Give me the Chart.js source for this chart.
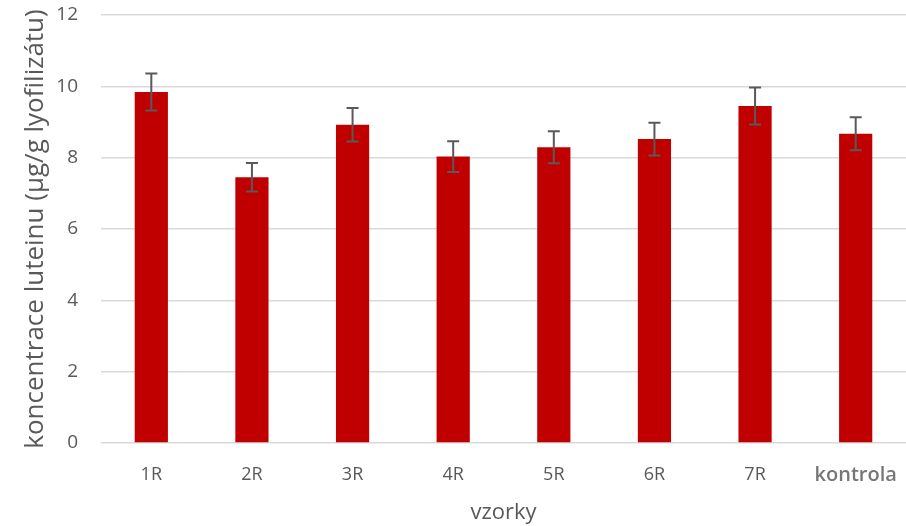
<!DOCTYPE html>
<html>
<head>
<meta charset="utf-8">
<script src="https://cdn.jsdelivr.net/npm/chart.js@4"></script>
<style>
  html, body { margin: 0; padding: 0; background: #fff; }
  #wrap { width: 906px; height: 526px; }
</style>
</head>
<body>
<div id="wrap"><canvas id="chart"></canvas></div>
<script>
// samples and measured lutein values
const labels = ["1R", "2R", "3R", "4R", "5R", "6R", "7R", "kontrola"];
const values = [9.84, 7.45, 8.92, 8.03, 8.29, 8.52, 9.45, 8.67];
const errors = [0.52, 0.40, 0.47, 0.43, 0.45, 0.46, 0.52, 0.46];
const yTicks = [0, 2, 4, 6, 8, 10, 12];

// draws the error bars with the y scale
const errorBars = {
    id: "errorBars",
    afterDatasetsDraw(chart) {
        const ctx = chart.ctx;
        const meta = chart.getDatasetMeta(0);
        const y = chart.scales.y;
        ctx.save();
        ctx.strokeStyle = "#595959";
        ctx.lineWidth = 2;
        meta.data.forEach((bar, i) => {
            const top = y.getPixelForValue(values[i] + errors[i]);
            const bottom = y.getPixelForValue(values[i] - errors[i]);
            const x = bar.x;
            ctx.beginPath();
            ctx.moveTo(x, top);
            ctx.lineTo(x, bottom);
            ctx.moveTo(x - 6, top);
            ctx.lineTo(x + 6, top);
            ctx.moveTo(x - 6, bottom);
            ctx.lineTo(x + 6, bottom);
            ctx.stroke();
        });
        ctx.restore();
    }
};

const ctx = document.getElementById("chart").getContext("2d");
let myChart = new Chart(ctx, {
    type: "bar",
    data: {
        labels: labels,
        datasets: [{
            data: values,
            backgroundColor: "#c00000",
            borderWidth: 0,
            categoryPercentage: 1,
            barPercentage: 0.33
        }]
    },
    options: {
        responsive: true,
        maintainAspectRatio: false,
        animation: false,
        layout: { autoPadding: false, padding: { top: 15, right: 0, bottom: 0, left: 20 } },
        plugins: {
            legend: { display: false },
            tooltip: { enabled: false }
        },
        scales: {
            x: {
                grid: { display: false, drawTicks: false },
                border: { display: false },
                ticks: {
                    maxRotation: 0,
                    autoSkip: false,
                    // "kontrola" is set in a heavier, lighter grey face in the original
                    color: c => c.index === 7 ? "#767676" : "#595959",
                    font: c => c.index === 7
                        ? { family: "Open Sans", size: 20, weight: "600", lineHeight: 2.6 }
                        : { family: "Open Sans", size: 18, lineHeight: 2.9 },
                    padding: 6
                },
                title: {
                    display: true,
                    text: "vzorky",
                    color: "#595959",
                    font: { family: "Open Sans", size: 22 },
                    padding: { top: 0, bottom: 0 }
                },
                afterFit: function(scale) {
                    scale.height = 83;
                    scale.paddingLeft = 0;
                    scale.paddingRight = 0;
                }
            },
            y: {
                min: 0,
                max: 12,
                afterBuildTicks: function(axis) {
                    axis.ticks = yTicks.map(v => ({ value: v }));
                },
                grid: { color: "#d9d9d9", lineWidth: 1.5, drawTicks: false },
                border: { display: false },
                ticks: {
                    color: "#595959",
                    font: { family: "Open Sans", size: 19 },
                    padding: 23
                },
                title: {
                    display: true,
                    text: "koncentrace luteinu (µg/g lyofilizátu)",
                    color: "#595959",
                    font: { family: "Open Sans", size: 26 },
                    padding: { top: 0, bottom: 0 }
                },
                afterFit: function(scale) {
                    scale.width = 81;
                    scale.paddingTop = 0;
                    scale.paddingBottom = 0;
                }
            }
        }
    },
    plugins: [errorBars]
});
</script>
</body>
</html>
